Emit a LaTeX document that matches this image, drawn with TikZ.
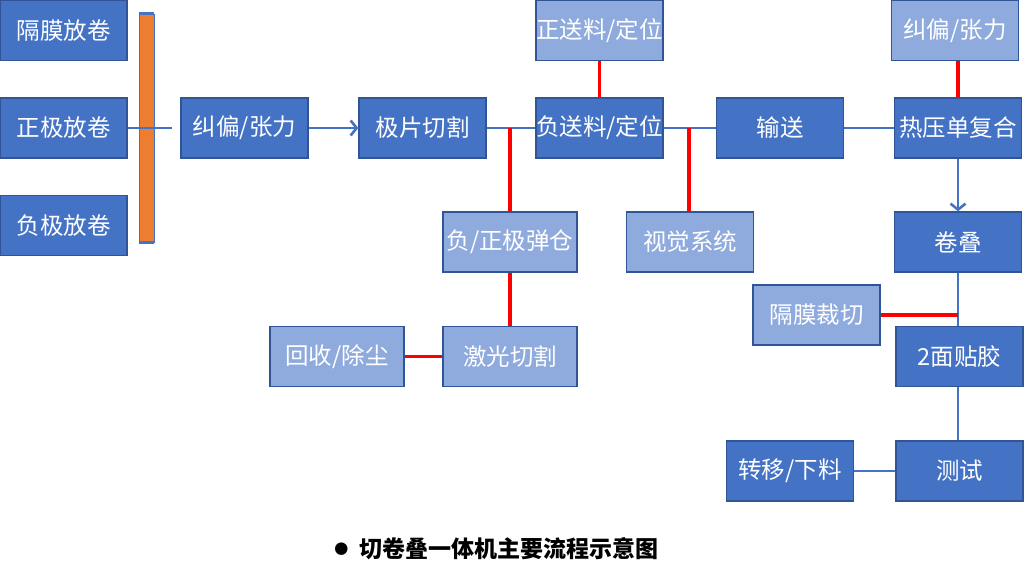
\documentclass[tikz,border=0pt]{standalone}
\usepackage{fontspec}
\newfontfamily\cjk{Noto Sans CJK SC}
\usetikzlibrary{arrows.meta,positioning}
\definecolor{mainblue}{HTML}{4472C4}
\definecolor{lightblue}{HTML}{8FAADC}
\definecolor{blockedge}{HTML}{2F5597}
\definecolor{baredge}{HTML}{ED7D31}

\begin{document}
\begin{tikzpicture}
[x=1pt, y=-1pt,
block/.style ={rectangle, draw=blockedge, fill=mainblue, line width=1.4pt,
text=white, inner sep=0pt, minimum width=127pt, minimum height=60pt,
font=\cjk\fontsize{23.5}{26}\selectfont},
aux/.style ={block, fill=lightblue},
wide/.style ={minimum width=134pt},
bar/.style ={rectangle, fill=baredge, draw=mainblue, line width=0.8pt,
minimum width=15pt, minimum height=228pt, inner sep=0pt},
line/.style ={draw=mainblue, line width=2.6pt},
redline/.style ={draw=red, line width=3.2pt},
flow/.style ={line, -{Straight Barb[length=6pt, width=15pt, line width=2.6pt]}}]
\useasboundingbox (0,0) rectangle (1024,568);
% unwinding
\node [block] (gmfj) at (63.5,30.5) {隔膜放卷};
\node [block] (zjfj) at (63.5,128) {正极放卷};
\node [block] (fjfj) at (63.5,225.5) {负极放卷};
\node [bar] (bar) at (146.5,128) {};
\coordinate (zjend) at (171.5,128);
% row 1
\node [block] (jpzl) at (244.5,128) {纠偏/张力};
\node [block] (jpqg) at (422.5,128) {极片切割};
\node [aux] (zsl) at (599.5,30.5) {正送料/定位};
\node [block] (fsl) at (599.5,128) {负送料/定位};
\node [block] (ss) at (780,128) {输送};
\node [aux] (jpzl2) at (955,30.5) {纠偏/张力};
\node [block] (ryfh) at (958,128) {热压单复合};
% row 2
\node [aux, wide] (dc) at (510,242) {负/正极弹仓};
\node [aux] (sjxt) at (690,242) {视觉系统};
\node [block] (jd) at (958,242) {卷叠};
% row 3
\node [aux, wide] (hscc) at (337,356.7) {回收/除尘};
\node [aux, wide] (jgqg) at (510,356.7) {激光切割};
\node [aux] (gmcq) at (816.5,315) {隔膜裁切};
\node [block] (tj) at (959.5,356.7) {2面贴胶};
% row 4
\node [block] (zyxl) at (790,471) {转移/下料};
\node [block] (cs) at (959.5,471) {测试};
% caption
\node [font=\cjk\bfseries\fontsize{23}{26}\selectfont] (cap) at (509,549)
{切卷叠一体机主要流程示意图};
\node [font=\cjk\fontsize{14}{16}\selectfont, left=4pt of cap] (dot) {●};

\draw[line] (bar.north west) -- (bar.north east);
\draw[line] (bar.south west) -- (bar.south east);
\draw[line] (zjfj) -- (zjend);
\draw[flow] (jpzl) -- (jpqg);
\draw[line] (jpqg) -- (fsl);
\draw[line] (fsl) -- (ss);
\draw[line] (ss) -- (ryfh);
\draw[flow] (ryfh) -- (jd);
\draw[line] (jd.south) -- (jd.south |- tj.north);
\draw[line] (tj.south -| jd.south) -- (cs.north -| jd.south);
\draw[line] (cs) -- (zyxl);
\draw[redline] (zsl) -- (fsl);
\draw[redline] (ryfh.north) -- (ryfh.north |- jpzl2.south);
\draw[redline] (dc.north) -- (dc.north |- jpqg.east);
\draw[redline] (dc) -- (jgqg);
\draw[redline] (jgqg) -- (hscc);
\draw[redline] (sjxt.north -| 689,0) -- (fsl.east -| 689,0);
\draw[redline] (gmcq.east) -- (gmcq.east -| jd.south);
\end{tikzpicture}
\end{document}
